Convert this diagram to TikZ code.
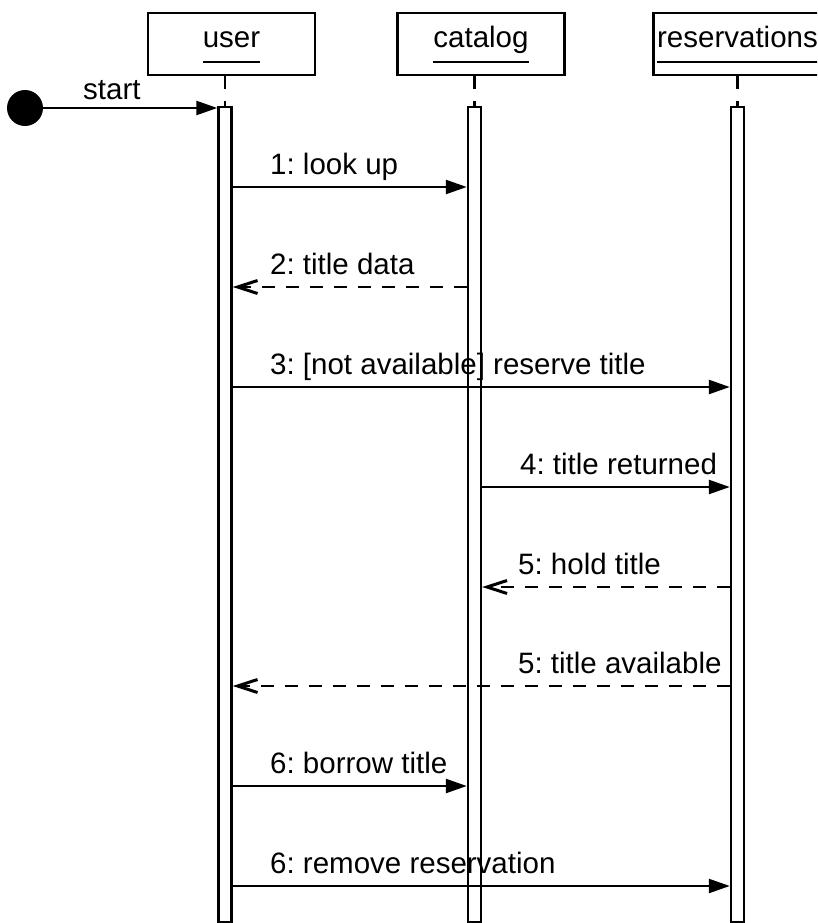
\documentclass[tikz,border=0pt]{standalone}
\usepackage{fontspec}
\setmainfont{Liberation Sans}
\usetikzlibrary{arrows.meta}
\begin{document}
\frenchspacing
\begin{tikzpicture}[x=1pt,y=-1pt,
  font=\fontsize{29.5}{34}\selectfont,
  objbox/.style={draw, line width=2.6pt, minimum width=167pt, minimum height=62pt, inner sep=0pt},
  objname/.style={inner sep=0pt, anchor=base},
  uline/.style={line width=2.6pt},
  actbar/.style={draw, line width=2.4pt, minimum width=13pt, minimum height=815pt, inner sep=0pt},
  lifeline/.style={line width=2.4pt, dash pattern=on 13pt off 12pt},
  call/.style={line width=2.4pt, -{Triangle[length=21pt,width=14pt]}},
  reply/.style={line width=2.4pt, dash pattern=on 13pt off 11pt, -{Straight Barb[length=20pt,width=13pt,line width=3pt]}},
  lbl/.style={inner sep=0pt, anchor=base west}]
\useasboundingbox (0,0) rectangle (817,923);
\clip (0,0) rectangle (817,923);

% object boxes
\node[objbox] (ubox) at (231.5,44) {};
\node[objbox] (cbox) at (481,44) {};
\node[objbox] (rbox) at (737,44) {};
\node[objname] (un) at (231.5,48) {user};
\node[objname] (cn) at (481,48) {catalog};
\node[objname] (rn) at (737.5,48) {reservations};
\draw[uline] ([yshift=-14pt]un.base west) -- ([yshift=-14pt]un.base east);
\draw[uline] ([yshift=-14pt]cn.base west) -- ([yshift=-14pt]cn.base east);
\draw[uline] ([yshift=-14pt]rn.base west) -- ([yshift=-14pt]rn.base east);

% activation bars
\node[actbar] (ub) at (225,514.5) {};
\node[actbar] (cb) at (474.5,514.5) {};
\node[actbar] (rb) at (737.5,514.5) {};

% lifelines
\draw[lifeline] (ub.north |- ubox.south) -- (ub.north);
\draw[lifeline] (cb.north |- cbox.south) -- (cb.north);
\draw[lifeline] (rb.north |- rbox.south) -- (rb.north);

% start
\node[circle, fill, minimum size=36pt, inner sep=0pt] (st) at (25,108) {};
\draw[call] (st) -- (ub.west |- st);
\node[lbl] (stl) at (83,100) {start};

% message rows
\coordinate (y1) at (0,187);
\coordinate (y2) at (0,287);
\coordinate (y3) at (0,387);
\coordinate (y4) at (0,487);
\coordinate (y5) at (0,587);
\coordinate (y6) at (0,686);
\coordinate (y7) at (0,786);
\coordinate (y8) at (0,886);

\draw[call]  (ub.east |- y1) -- (cb.west |- y1);
\draw[reply] (cb.west |- y2) -- (ub.east |- y2);
\draw[call]  (ub.east |- y3) -- (rb.west |- y3);
\draw[call]  (cb.east |- y4) -- (rb.west |- y4);
\draw[reply] (rb.west |- y5) -- (cb.east |- y5);
\draw[reply] (rb.west |- y6) -- (ub.east |- y6);
\draw[call]  (ub.east |- y7) -- (cb.west |- y7);
\draw[call]  (ub.east |- y8) -- (rb.west |- y8);

\node[lbl] (l1) at (270,174) {1: look up};
\node[lbl] (l2) at (270,274) {2: title data};
\node[lbl] (l3) at (270,374) {3: [not available] reserve title};
\node[lbl] (l4) at (520,474) {4: title returned};
\node[lbl] (l5) at (518,574) {5: hold title};
\node[lbl] (l6) at (518,673) {5: title available};
\node[lbl] (l7) at (270,773) {6: borrow title};
\node[lbl] (l8) at (270,873) {6: remove reservation};
\end{tikzpicture}
\end{document}
